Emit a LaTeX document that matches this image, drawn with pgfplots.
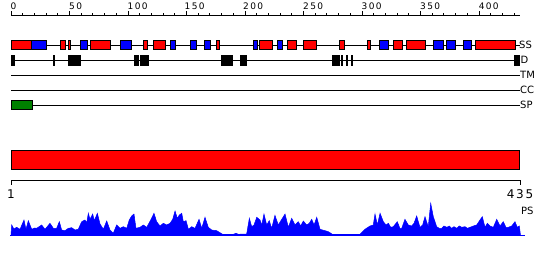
\documentclass[border=0pt]{standalone}
\usepackage{pgfplots}
\pgfplotsset{compat=1.18}
\usepackage{pgfplotstable}
\usepackage{fontspec}
\setmainfont{DejaVu Sans}
\newfontfamily\numfont[LetterSpace=15]{DejaVu Sans}
\definecolor{ssred}{RGB}{255,0,0}
\definecolor{ssblue}{RGB}{0,0,255}
\definecolor{spgreen}{RGB}{0,128,0}

% PS profile: residue, height (px)
\pgfplotstableread{
r h
0 0
0.6 10
2.5 6
4.8 7.7
7.7 5.7
11.1 15
12.8 5.7
14.8 14.3
17.7 5.7
20 7
22 6.7
26.2 10
29.1 5.7
33.3 11.7
36.2 6.7
39 6.7
41.3 13.3
43.3 5
46.1 4.3
49 6.7
51.9 7.3
54.7 5
57.5 5.7
60.4 13.3
63.2 15
64.7 12.3
66.1 21.7
67.5 15.7
69.8 21
71.2 14.3
73.8 21.7
76.1 11
78.9 5.7
81.8 14
84.6 5
87.4 1.7
90.3 10
93.2 6.7
96 8.3
98.9 6.7
101.1 15
103.1 19
105.1 21
106.8 6.7
110.2 7.7
113.1 10
116 7.7
119.4 15
122.2 21.7
124.5 13.3
127.3 9
130.2 11.7
133.1 10
135.9 11.7
138.2 15.7
140.2 24
142.1 16.7
143.9 20
145.9 21.7
147.3 13.3
149.6 14.3
151.6 5.7
154.4 8.3
157.3 6.7
160.7 15.7
163 6.7
165.8 17.7
168.6 7.7
171.5 5
175.8 4.3
178.6 2.3
180.9 0.7
190 0.7
192.3 1.7
194.3 0.7
201.4 1
203.7 16.7
205.7 8.3
207.7 10
210 17.7
212.8 15
214.3 10
216.2 21
218.5 10
220.7 14.3
222.8 6.7
225.6 19.7
228.4 10
234.2 21
237 7.7
239.9 16.7
242.7 10
245.5 13.3
247.6 9
249.8 14
252.7 10
254.9 11.7
257 15.7
259 10
261.3 17.7
264.1 5.7
268.4 4.3
271.2 3.3
272.6 2.3
274.6 0.7
298.3 0.7
302.5 5.7
306.8 9
309.6 10
311.1 21
313.1 10
315.4 21.7
318.2 13.3
320.5 10
322.5 11.7
324.5 7.7
326.7 8.3
330.1 13.3
332.4 6.7
333.9 6.7
336.7 15.7
339.5 10
342.4 9
344.4 11.7
346.7 19
349.5 7.7
351.8 10
353.8 18.3
356.6 8.3
358.7 31.7
360.9 18.3
363.8 8.3
366 6.7
368.1 6.7
370 9
372.4 7.7
374.6 9
376.6 6.7
378.6 8.3
380.9 6.7
383.1 9
385.2 7.7
388 8.3
390 6.7
392.3 7.7
395.1 9
398 10
400.8 15
402.8 18.3
405.1 7.7
407.1 11.7
409.4 9
412.2 7.7
415.1 15.7
417.9 9
420.7 13.3
423 7.7
425 7.7
427.9 9
430.7 13.3
432.7 7.7
434.4 9
435.4 0
}\pstable

\newcommand{\seg}[5]{\addplot[fill=#3, draw=black, line width=1pt] coordinates {(#1,#4) (#2,#4) (#2,#5) (#1,#5)} -- cycle;}
\newcommand{\ssbox}[3]{\seg{#1}{#2}{#3}{40.5}{49.5}}
\newcommand{\dbox}[2]{\seg{#1}{#2}{black}{55.5}{65.2}}

\begin{document}
\begin{tikzpicture}
\begin{axis}[
  width=550pt, height=260pt, scale only axis,
  xmin=-9.401, xmax=460.64, ymin=0, ymax=260, y dir=reverse,
  hide axis, clip=false,
]
\path (rel axis cs:0,0) rectangle (rel axis cs:1,1);

% top ruler
\addplot[black, line width=1pt] coordinates {(0,15) (435,15)};
\addplot[black, line width=1pt, quiver={u=0,v=-2.5}] coordinates {
(10,15) (20,15) (30,15) (40,15) (60,15) (70,15) (80,15) (90,15)
(110,15) (120,15) (130,15) (140,15) (160,15) (170,15) (180,15) (190,15)
(210,15) (220,15) (230,15) (240,15) (260,15) (270,15) (280,15) (290,15)
(310,15) (320,15) (330,15) (340,15) (360,15) (370,15) (380,15) (390,15)
(410,15) (420,15) (430,15)};
\addplot[black, line width=1pt, quiver={u=0,v=-4}] coordinates {
(0,15) (50,15) (100,15) (150,15) (200,15) (250,15) (300,15) (350,15) (400,15)};
\node[anchor=base west, inner sep=0, font=\numfont\fontsize{9}{10}\selectfont, xshift=-0.5pt] at (axis cs:0,9.8) {0};
\node[anchor=base west, inner sep=0, font=\numfont\fontsize{9}{10}\selectfont, xshift=-0.5pt] at (axis cs:50,9.8) {50};
\node[anchor=base west, inner sep=0, font=\numfont\fontsize{9}{10}\selectfont, xshift=-0.5pt] at (axis cs:100,9.8) {100};
\node[anchor=base west, inner sep=0, font=\numfont\fontsize{9}{10}\selectfont, xshift=-2pt] at (axis cs:150,9.8) {150};
\node[anchor=base west, inner sep=0, font=\numfont\fontsize{9}{10}\selectfont, xshift=-2pt] at (axis cs:200,9.8) {200};
\node[anchor=base west, inner sep=0, font=\numfont\fontsize{9}{10}\selectfont, xshift=-0.5pt] at (axis cs:250,9.8) {250};
\node[anchor=base west, inner sep=0, font=\numfont\fontsize{9}{10}\selectfont, xshift=-0.5pt] at (axis cs:300,9.8) {300};
\node[anchor=base west, inner sep=0, font=\numfont\fontsize{9}{10}\selectfont, xshift=-0.5pt] at (axis cs:350,9.8) {350};
\node[anchor=base west, inner sep=0, font=\numfont\fontsize{9}{10}\selectfont, xshift=-0.5pt] at (axis cs:400,9.8) {400};

% track lines
\addplot[black, line width=1pt] coordinates {(0,45) (435,45)};
\addplot[black, line width=1pt] coordinates {(0,60) (435,60)};
\addplot[black, line width=1pt] coordinates {(0,75) (435,75)};
\addplot[black, line width=1pt] coordinates {(0,90) (435,90)};
\addplot[black, line width=1pt] coordinates {(0,105) (435,105)};

% SS
\ssbox{0.4}{17.7}{ssred}
\ssbox{17.7}{30.1}{ssblue}
\ssbox{42.3}{46.4}{ssred}
\ssbox{49.1}{50.6}{ssred}
\ssbox{59.4}{65.2}{ssblue}
\ssbox{67.9}{84.8}{ssred}
\ssbox{93.8}{103.0}{ssblue}
\ssbox{113.4}{116.4}{ssred}
\ssbox{122.0}{131.8}{ssred}
\ssbox{136.6}{140.4}{ssblue}
\ssbox{153.6}{158.3}{ssblue}
\ssbox{165.4}{170.3}{ssblue}
\ssbox{175.9}{178.0}{ssred}
\ssbox{207.4}{210.5}{ssblue}
\ssbox{212.6}{223.6}{ssred}
\ssbox{228.0}{232.3}{ssblue}
\ssbox{236.0}{244.3}{ssred}
\ssbox{250.2}{260.9}{ssred}
\ssbox{281.0}{285.3}{ssred}
\ssbox{304.9}{307.6}{ssred}
\ssbox{315.2}{322.4}{ssblue}
\ssbox{326.6}{334.4}{ssred}
\ssbox{338.3}{354.6}{ssred}
\ssbox{361.4}{369.4}{ssblue}
\ssbox{372.2}{379.9}{ssblue}
\ssbox{386.5}{393.6}{ssblue}
\ssbox{396.7}{431.2}{ssred}

% D
\dbox{0.4}{3.0}
\dbox{36.6}{37.2}
\dbox{49.1}{59.4}
\dbox{105.4}{109.0}
\dbox{110.7}{117.6}
\dbox{179.9}{189.3}
\dbox{196.1}{201.3}
\dbox{275.0}{280.5}
\dbox{282.7}{283.4}
\dbox{286.4}{287.4}
\dbox{291.0}{291.6}
\dbox{430.6}{434.6}

% SP
\seg{0.0}{18.1}{spgreen}{100.5}{109.5}

\node[anchor=west, inner sep=0, font=\fontsize{10}{12}\selectfont, xshift=-1pt] at (axis cs:435,45) {SS};
\node[anchor=west, inner sep=0, font=\fontsize{10}{12}\selectfont, xshift=0.5pt] at (axis cs:435,60) {D};
\node[anchor=west, inner sep=0, font=\fontsize{10}{12}\selectfont] at (axis cs:435,75) {TM};
\node[anchor=west, inner sep=0, font=\fontsize{10}{12}\selectfont] at (axis cs:435,90) {CC};
\node[anchor=west, inner sep=0, font=\fontsize{10}{12}\selectfont] at (axis cs:435,105) {SP};

% big bar
\seg{0.0}{434.6}{ssred}{150.5}{169.5}

% bottom ruler
\addplot[black, line width=1pt] coordinates {(0,180) (435,180)};
\addplot[black, line width=1pt, quiver={u=0,v=4.5}] coordinates {(0,180) (435,180)};
\node[anchor=north, inner sep=0, font=\numfont\fontsize{12}{14}\selectfont] at (axis cs:0,189.5) {1};
\node[anchor=north, inner sep=0, font=\numfont\fontsize{12}{14}\selectfont] at (axis cs:435,189.5) {435};
\node[anchor=west, inner sep=0, font=\fontsize{10}{12}\selectfont, xshift=1pt] at (axis cs:435,210.5) {PS};

% PS profile
\addplot[blue, line width=1pt] coordinates {(-0.5,235) (439.3,235)};
\addplot[fill=ssblue, draw=ssblue, line width=0.5pt] table[x=r, y expr=235-\thisrow{h}] {\pstable} -- cycle;
\end{axis}
\end{tikzpicture}
\end{document}
